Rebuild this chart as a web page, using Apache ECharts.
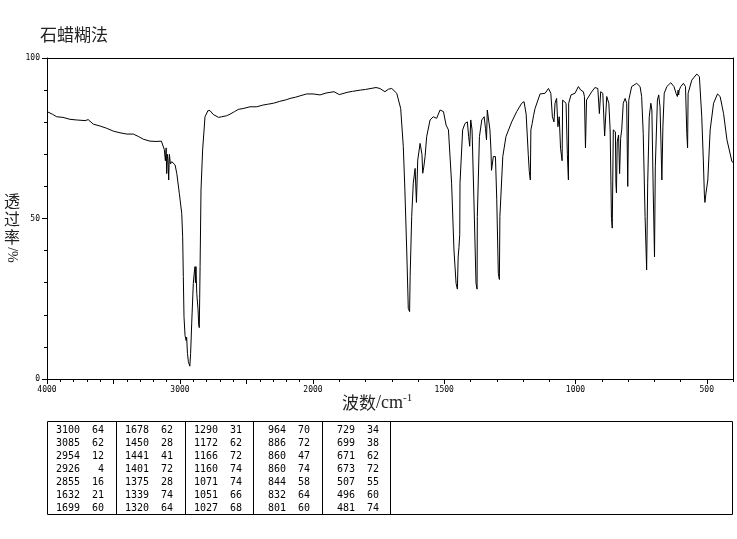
<!DOCTYPE html>
<html><head><meta charset="utf-8">
<script src="https://cdn.jsdelivr.net/npm/echarts@6/dist/echarts.min.js"></script>
<style>html,body{margin:0;padding:0;background:#fff}#c{width:737px;height:539px}</style>
</head><body><div id="c"></div>
<script>
// ---- spectrum data (wavenumber cm-1, transmittance %) ----
const wavenumbers = [
4000,3960,3927,3880,3827,3780,3714,3690,3652,3600,3551,3500,3451,3400,3351,3310,3276,3226,3180,3140,3125,
3118,3110,3104,3100,3095,3090,3085,3080,3072,3062,3037,3024,3005,2987,2980,2975,2970,2962,2954,2950,2944,
2937,2926,2920,2912,2900,2893,2887,2884,2880,2874,2865,2859,2855,2852,2849,2842,2830,2812,2790,2774,2750,
2737,2710,2686,2650,2624,2590,2561,2520,2474,2423,2380,2340,2298,2250,2200,2173,2130,2090,2047,2000,
1973,1950,1920,1900,1870,1850,1820,1800,1760,1745,1726,1712,1700,1681,1666,1656,1650,1643,1637,1632,
1630,1624,1618,1611,1606,1603,1601,1592,1585,1582,1578,1573,1567,1554,1542,1529,1516,1503,1493,1484,
1472,1463,1455,1450,1447,1444,1441,1440,1430,1421,1412,1407,1403,1399,1394,1387,1379,1375,1374,1366,
1357,1348,1343,1339,1336,1332,1326,1322,1320,1313,1305,1300,1294,1290,1288,1277,1265,1243,1224,1205,
1196,1188,1180,1176,1172,1170,1165,1160,1154,1135,1116,1103,1094,1088,1082,1078,1072,1067,1062,1057,
1051,1049,1043,1036,1031,1027,1026,1017,1002,989,980,970,966,962,958,951,938,926,915,909,904,896,889,
881,873,868,863,860,856,848,846,844,841,836,832,828,824,818,811,805,801,797,786,767,754,748,742,735,729,
725,719,713,709,704,699,696,688,683,678,674,671,667,662,652,637,625,617,612,609,607,605,599,589,581,576,
573,571,557,538,528,519,513,509,507,503,500,496,487,474,459,449,436,423,404,400];
const transmittance = [
83.3,82.5,81.7,81.5,80.9,80.7,80.5,80.8,79.4,78.8,78.1,77.2,76.7,76.3,76.3,75.5,74.7,74.1,74.0,74.1,74.0,
71.5,68,72,64,70,68,62,70,67,67.7,66.7,64,57.8,51.6,44.3,31.9,19.4,13.5,12,13,8,
5.4,4,8,17.4,29.8,33,35,30,35,26.7,22,16.8,16,25,35,58.9,71.3,81.7,83.6,83.6,82.4,
82.2,81.5,81.7,82,82.5,83.3,84,84.3,84.8,84.8,85.3,85.6,85.9,86.5,87,87.4,87.8,88.3,88.8,88.8,
88.5,89.1,89.5,88.6,89.3,89.6,90,90.2,90.8,90.5,89.5,90.3,90.5,89,84.3,72.4,58.9,40.2,22,21,
31.9,50.6,61,65.6,55,55,68.2,73.4,70,64.1,66,69.3,75.5,80.7,81.7,81.2,83.8,83.3,79.1,77.6,
61,40.2,29.8,28,38,41,45,61,77.6,79.6,80.1,75.5,72.5,80.7,77.6,55.8,29.8,28,50.6,75.5,
80.7,81.7,78.1,74.5,83.8,84.3,77.6,71.3,65,69.3,69.3,55.8,32.9,31,50.6,69.3,75.5,80.1,83.3,85.9,
86.4,82.5,70,64.6,62,77.6,79.6,82,84.3,88.8,89,90.5,89,81.7,80.1,85.9,87.4,78.6,81.7,71.9,
68,86.9,87.4,85.9,70,62,85.9,88.5,89,91.1,90,89.5,88,72,86.9,87.5,89.5,90.8,90.5,82.7,89.5,89,75.7,
88,85.9,77.6,50,47,77.6,77,61,58,73.9,76,64,75,77.6,85.9,87.4,85.9,60,86.9,91.1,92.1,91.1,88,76.5,50.6,34,
61,81.7,85.9,83.8,58.9,38,66.1,86.9,88.5,84.8,72.4,62,78.6,89,91.1,92.3,91.1,89,88,90,88.5,90,91.1,92.1,91.1,76.5,
72,89,93.1,95,94.2,81.7,68.2,57.3,55,57.8,58,62,77.6,85.9,88.8,88,82.7,74.5,67.7,67.5];

// ---- peak table ----
const peakWavenumbers = [3100,3085,2954,2926,2855,1632,1699, 1678,1450,1441,1401,1375,1339,1320,
  1290,1172,1166,1160,1071,1051,1027, 964,886,860,860,844,832,801, 729,699,671,673,507,496,481];
const peakTransmittance = [64,62,12,4,16,21,60, 62,28,41,72,28,74,64, 31,62,72,74,74,66,68,
  70,72,47,74,58,64,60, 34,38,62,72,55,60,74];

// ---- axis ticks / labels ----
const xLabelsHigh = [4000,3000,2000];
const xLabelsLow = [1500,1000,500];
const xMajorHigh = [4000,3500,3000,2500,2000];
const xMajorLow = [2000,1500,1000,500];
const yLabels = [0,50,100];

const titleText = '石蜡糊法';
const yNameMain = '透\n过\n率';
const yNameUnit = '/%';

const high = [], low = [];
wavenumbers.forEach((w,i)=>{
  if (w >= 2000) high.push([w, transmittance[i]]);
  if (w <= 2000) low.push([w, transmittance[i]]);
});
const range = (a,b,s)=>{const r=[];for(let v=a;v<=b;v+=s)r.push(v);return r;};

const tickFont = {fontFamily:'DejaVu Sans Mono', fontSize:8, color:'#000', formatter:v=>String(v)};
const axisLine = {show:true, lineStyle:{color:'#000', width:1}};

function bottomAxis(grid, min, max, labels, major){
  return [
    {type:'value', gridIndex:grid, min, max, inverse:true, position:'bottom',
     axisLine, splitLine:{show:false},
     axisTick:{show:true, length:5, lineStyle:{color:'#000'}, customValues:major},
     axisLabel:Object.assign({show:true, margin:7, customValues:labels}, tickFont)},
    {type:'value', gridIndex:grid, min, max, inverse:true, position:'bottom',
     axisLine:{show:false}, splitLine:{show:false},
     axisTick:{show:true, length:3, lineStyle:{color:'#000'}, customValues:range(min,max,100)},
     axisLabel:{show:false}},
    {type:'value', gridIndex:grid, min, max, inverse:true, position:'top',
     axisLine, splitLine:{show:false}, axisTick:{show:false}, axisLabel:{show:false}}
  ];
}

const tableLeft = 47, tableTop = 421, tableBottom = 514, tableRight = 732;
const colEdges = [47,116,185,253,322,390];
const rowsPerCol = 7;
const graphics = [];
graphics.push({type:'rect', shape:{x:tableLeft+0.5, y:tableTop+0.5, width:tableRight-tableLeft, height:tableBottom-tableTop},
  style:{fill:null, stroke:'#000', lineWidth:1}});
colEdges.slice(1).forEach(x=>{
  graphics.push({type:'line', shape:{x1:x+0.5,y1:tableTop,x2:x+0.5,y2:tableBottom}, style:{stroke:'#000',lineWidth:1}});
});
peakWavenumbers.forEach((w,i)=>{
  const c = Math.floor(i/rowsPerCol), r = i%rowsPerCol;
  const x0 = colEdges[c];
  const y = 430 + r*13;
  graphics.push({type:'text', x:x0+33, y, style:{text:String(w), font:'10px "DejaVu Sans Mono"', fill:'#000', align:'right', verticalAlign:'middle'}});
  graphics.push({type:'text', x:x0+57, y, style:{text:String(peakTransmittance[i]), font:'10px "DejaVu Sans Mono"', fill:'#000', align:'right', verticalAlign:'middle'}});
});
graphics.push({type:'text', x:40, y:35, style:{text:titleText, font:'17px "Noto Sans CJK SC"', fill:'#222', verticalAlign:'middle'}});
graphics.push({type:'text', x:12, y:192, style:{text:yNameMain, font:'16px "Noto Sans CJK SC"', fill:'#222', align:'center', lineHeight:18}});
graphics.push({type:'text', x:12, y:255, rotation:-Math.PI/2, style:{text:yNameUnit, font:'14px "Liberation Serif"', fill:'#222', align:'center', verticalAlign:'middle'}});
graphics.push({type:'text', x:342, y:403, style:{
  text:'{a|波数}{b|/cm}{s|-1}', verticalAlign:'middle',
  rich:{a:{fontFamily:'Noto Sans CJK SC', fontSize:17, fill:'#222'},
        b:{fontFamily:'Liberation Serif', fontSize:18, fill:'#222'},
        s:{fontFamily:'Liberation Serif', fontSize:11, fill:'#222', verticalAlign:'top', padding:[0,0,10,0]}}}});

const chart = echarts.init(document.getElementById('c'), null, {renderer:'canvas'});
chart.setOption({
  animation:false,
  backgroundColor:'#fff',
  grid:[
    {left:47, top:58, width:266, height:321},
    {left:313, top:58, width:420, height:321}
  ],
  xAxis: bottomAxis(0,2000,4000,xLabelsHigh,xMajorHigh).concat(bottomAxis(1,400,2000,xLabelsLow,xMajorLow)),
  yAxis:[
    {type:'value', gridIndex:0, min:0, max:100, interval:50, position:'left',
     axisLine, splitLine:{show:false},
     axisTick:{show:true, length:5, lineStyle:{color:'#000'}},
     minorTick:{show:true, splitNumber:5, length:3, lineStyle:{color:'#000'}},
     axisLabel:Object.assign({margin:7, customValues:yLabels}, tickFont)},
    {type:'value', gridIndex:1, min:0, max:100, interval:50, position:'right',
     axisLine, splitLine:{show:false}, axisTick:{show:false}, axisLabel:{show:false}}
  ],
  series:[
    {type:'line', xAxisIndex:0, yAxisIndex:0, data:high, showSymbol:false, symbol:'none',
     lineStyle:{color:'#000', width:1}, silent:true},
    {type:'line', xAxisIndex:3, yAxisIndex:1, data:low, showSymbol:false, symbol:'none',
     lineStyle:{color:'#000', width:1}, silent:true}
  ],
  graphic:graphics
});
</script></body></html>
